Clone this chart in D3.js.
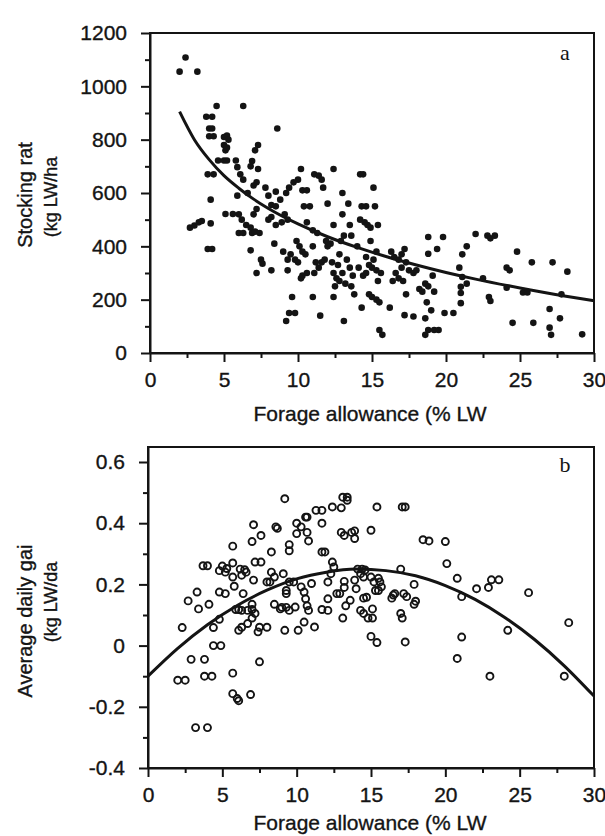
<!DOCTYPE html>
<html><head><meta charset="utf-8">
<script src="https://cdn.jsdelivr.net/npm/d3@7"></script>
<style>body{margin:0;background:#fff}</style>
</head><body>
<svg id="chart" width="605" height="836"></svg>
<script>
// ---------- data ----------
const xTicks = [0,5,10,15,20,25,30];
const xMinorTicks = [2.5,7.5,12.5,17.5,22.5,27.5];
const stockTicks = [0,200,400,600,800,1000,1200];
const stockMinorTicks = [100,300,500,700,900,1100];
const gainTicks = [-0.4,-0.2,0,0.2,0.4,0.6];
const gainMinorTicks = [-0.3,-0.1,0.1,0.3,0.5];

const stockingPoints = [
[2.0,1055],[2.4,1108],[3.2,1055],
[2.7,470],[3.0,478],[3.3,490],[3.5,495],
[3.8,886],[4.2,886],[4.5,926],[4.0,842],[4.2,842],[4.0,813],[4.3,813],
[3.9,670],[4.3,670],[4.1,575],[4.1,486],[3.9,390],[4.2,390],
[4.6,722],[5.0,722],[5.2,722],
[5.0,810],[5.2,815],[5.3,800],[5.0,780],[5.1,760],[5.2,770],
[5.1,521],[5.6,521],[5.8,722],[5.9,697],[5.9,590],[6.1,670],[6.3,650],[6.0,520],[6.3,926],[6.0,450],[6.3,450],[6.2,500],
[6.8,700],[6.9,720],[7.1,760],[7.3,780],[7.3,690],[7.2,640],[7.0,628],[6.6,600],
[6.5,480],[6.8,470],[6.9,450],[7.1,455],[7.4,450],[7.2,540],[7.0,520],
[6.8,385],[7.5,350],[7.6,335],[7.2,300],
[7.8,620],[8.0,590],[8.2,555],[8.5,605],[8.6,842],[8.8,575],[8.5,550],[8.2,510],[8.5,480],[8.0,500],[8.4,410],[8.2,310],
[8.9,490],[9.1,520],[9.2,600],[9.3,500],[9.4,620],
[9.0,380],[9.3,350],[9.5,370],[9.3,310],[9.6,210],[9.2,120],[9.4,150],[9.8,150],
[9.7,640],[10.0,650],[10.2,690],[10.3,610],[10.6,610],[9.9,420],[10.1,400],[10.3,380],[10.5,370],[9.8,350],[10.0,340],[10.3,290],[10.2,280],[10.6,300],[10.4,550],[10.8,550],[10.6,490],
[11.1,670],[11.4,665],[11.6,650],[11.7,620],[11.0,460],[11.3,450],[11.0,400],[11.2,340],[11.4,320],[11.1,300],[11.6,340],[11.8,350],[11.0,210],[11.5,140],[12.0,560],[12.0,400],[11.9,420],[12.2,410],
[12.4,690],[12.4,480],[12.3,340],[12.4,300],[12.6,280],[12.5,250],[12.7,330],[12.8,370],[12.9,420],[12.4,210],[13.0,600],[13.0,520],[13.1,440],[13.0,300],[13.2,260],[13.3,350],[13.1,120],[12.8,270],
[13.4,560],[13.5,480],[13.6,440],[13.5,320],[13.7,290],[13.6,250],[13.8,220],[14.0,400],[14.1,320],[14.2,500],
[14.2,670],[14.4,670],[14.3,550],[14.6,550],[14.5,490],[14.7,480],[14.4,290],[14.6,300],[14.8,330],[14.6,360],[14.3,170],[14.9,470],[14.9,420],[14.8,220],[15.0,210],
[15.1,620],[15.2,550],[15.4,480],[15.3,380],[15.1,350],[15.0,320],[15.3,310],[15.6,300],[15.4,270],[15.3,200],[15.5,190],[15.5,86],[15.7,68],
[16.2,170],[16.3,380],[16.5,360],[16.6,300],[16.4,270],[16.8,280],[17.0,370],[16.8,350],[17.0,320],
[17.2,390],[17.3,340],[17.5,310],[17.1,270],[17.3,220],[17.2,142],[17.8,300],[18.0,310],[17.8,137],[18.2,240],[18.4,230],
[18.6,260],[18.8,250],[18.7,190],[18.6,130],[18.8,86],[18.6,68],[18.8,435],[18.8,372],[19.4,390],[19.1,290],[19.2,230],[19.0,160],[19.2,86],[19.5,86],
[19.8,435],[19.9,150],[20.5,150],[20.9,320],[21.1,285],[21.0,248],[21.0,225],[21.0,187],[21.1,370],[21.4,400],[21.4,260],
[22.0,446],[22.5,280],[22.8,440],[23.0,430],[23.3,440],[22.9,210],[23.0,195],[24.1,320],[24.3,310],[24.1,245],
[24.5,113],[24.8,380],[25.2,227],[25.5,227],[25.8,340],[25.9,113],[27.0,165],[27.2,340],[27.0,95],[27.1,68],[27.7,130],[27.8,220],[28.2,305],[29.2,70]
];

const stockingFitX = [2,3,4,5,6,7,8,10,12,14,16,18,20,22,25,28,30];
const stockingFitY = [905,800,725,665,618,577,542,484,436,396,361,330,302,277,244,214,196];

const gainPoints = [
[2.0,-0.113],[2.5,-0.113],[2.3,0.059],[2.7,0.146],[2.9,-0.045],[3.8,-0.045],[3.3,0.175],[3.4,0.12],[3.7,0.261],[4.0,0.261],[3.8,-0.1],[4.3,-0.1],[3.2,-0.268],[4.0,-0.268],[4.1,0.135],[4.4,0.059],[4.4,0],[4.9,0],[4.8,0.086],[4.8,0.245],[5.0,0.26],[5.2,0.24],[5.3,0.252],[4.8,0.175],[5.2,0.17],[5.7,0.27],[5.7,0.224],[5.8,0.194],[5.7,0.325],[5.7,-0.09],[5.7,-0.157],[6.0,-0.173],[6.1,-0.18],[6.9,-0.16],[5.9,0.118],[6.1,0.118],[6.1,0.05],[6.3,0.06],[6.3,0.23],[6.5,0.248],[6.6,0.24],[6.2,0.25],[6.4,0.17],[6.3,0.115],[6.7,0.115],[7.0,0.34],[7.1,0.395],[7.2,0.273],[7.6,0.273],[7.1,0.214],[7.0,0.135],[7.0,0.118],[7.0,0.09],[7.2,0.105],[6.7,0.072],[7.4,0.045],[7.5,0.06],[8.0,0.06],[7.5,-0.053],[7.6,0.36],[8.0,0.208],[8.2,0.208],[8.3,0.306],[8.3,0.24],[8.5,0.224],[8.5,0.135],[8.6,0.388],[8.7,0.383],[8.9,0.12],[9.0,0.125],[9.1,0.235],[9.2,0.48],[9.3,0.18],[9.3,0.17],[9.2,0.05],[9.3,0.125],[9.5,0.115],[9.5,0.33],[9.5,0.31],[9.5,0.208],[9.8,0.208],[9.9,0.126],[10.0,0.40],[10.3,0.388],[10.0,0.366],[10.1,0.05],[10.3,0.192],[10.5,0.175],[10.6,0.153],[10.6,0.42],[10.7,0.42],[10.7,0.37],[10.8,0.342],[10.5,0.077],[10.7,0.13],[10.8,0.115],[11.0,0.203],[11.2,0.061],[11.3,0.442],[11.7,0.442],[11.7,0.40],[11.7,0.306],[11.9,0.306],[11.7,0.118],[12.1,0.208],[12.1,0.153],[12.1,0.115],[12.4,0.453],[12.4,0.273],[12.5,0.257],[12.3,0.235],[12.7,0.17],[12.9,0.17],[13.0,0.45],[13.1,0.485],[13.4,0.485],[13.4,0.475],[13.0,0.37],[13.2,0.36],[13.1,0.09],[13.2,0.19],[13.2,0.21],[13.3,0.13],[13.6,0.148],[13.7,0.37],[13.9,0.375],[13.9,0.35],[13.9,0.214],[14.0,0.186],[14.1,0.25],[14.4,0.25],[14.6,0.247],[14.3,0.235],[14.5,0.224],[14.3,0.115],[14.5,0.105],[14.8,0.09],[15.1,0.09],[14.5,0.155],[14.7,0.158],[15.0,0.03],[15.4,0.01],[15.0,0.377],[15.0,0.224],[15.2,0.208],[15.3,0.18],[15.4,0.453],[15.1,0.12],[15.5,0.22],[15.6,0.208],[15.5,0.18],[15.7,0.192],[16.4,0.155],[16.5,0.165],[16.6,0.17],[17.0,0.25],[17.0,0.105],[17.1,0.09],[17.1,0.453],[17.3,0.453],[17.2,0.17],[17.4,0.16],[17.3,0.012],[17.9,0.2],[18.0,0.145],[17.9,0.135],[18.5,0.346],[18.9,0.342],[20.0,0.34],[20.1,0.268],[20.8,0.22],[20.8,-0.042],[21.1,0.028],[21.1,0.16],[22.1,0.186],[22.9,0.19],[23.1,0.215],[23.6,0.215],[23.0,-0.1],[24.2,0.05],[25.6,0.173],[28.0,-0.1],[28.3,0.075]
];

const gainFitX = [0,2,4,6,8,10,12,14,16,18,20,22,24,26,28,30];
const gainFitY = [-0.10,-0.009,0.068,0.131,0.181,0.218,0.240,0.250,0.245,0.228,0.196,0.151,0.092,0.020,-0.066,-0.165];

const xTitle = "Forage allowance (% LW";
const stockTitle = ["Stocking rat", "(kg LW/ha"];
const gainTitle = ["Average daily gai", "(kg LW/da"];

// ---------- drawing ----------
const svg = d3.select("#chart");
svg.append("rect").attr("width",605).attr("height",836).attr("fill","#fff");
const FONT = "'Liberation Sans', Arial, sans-serif";
const INK = "#141414";

function styleText(sel, size) {
  sel.attr("fill",INK).attr("stroke",INK).attr("stroke-width",0.35)
     .style("font-family",FONT).style("font-size",size);
}

function drawPanel(cfg) {
  const x = d3.scaleLinear().domain([0,30]).range([cfg.left, cfg.right]);
  const y = d3.scaleLinear().domain(cfg.yDomain).range([cfg.bottom, cfg.top]);
  const g = svg.append("g");

  g.append("rect")
    .attr("x", cfg.left).attr("y", cfg.top)
    .attr("width", cfg.right - cfg.left).attr("height", cfg.bottom - cfg.top)
    .attr("fill","none").attr("stroke",INK).attr("stroke-width",2);

  const xa = g.append("g").attr("transform",`translate(0,${cfg.bottom})`)
    .call(d3.axisBottom(x).tickValues(xTicks).tickSize(9).tickSizeOuter(0).tickPadding(10).tickFormat(d3.format("d")));
  const xm = g.append("g").attr("transform",`translate(0,${cfg.bottom})`)
    .call(d3.axisBottom(x).tickValues(xMinorTicks).tickSize(5).tickSizeOuter(0).tickFormat(""));
  const ya = g.append("g").attr("transform",`translate(${cfg.left},0)`)
    .call(d3.axisLeft(y).tickValues(cfg.yTicks).tickSize(9).tickSizeOuter(0).tickPadding(14).tickFormat(cfg.yFormat));
  const ym = g.append("g").attr("transform",`translate(${cfg.left},0)`)
    .call(d3.axisLeft(y).tickValues(cfg.yMinor).tickSize(5).tickSizeOuter(0).tickFormat(""));
  xm.select(".domain").remove(); ym.select(".domain").remove();
  [xa,xm,ya,ym].forEach(a => {
    a.selectAll("line").attr("stroke",INK).attr("stroke-width",2);
    a.selectAll(".domain").attr("stroke",INK).attr("stroke-width",2);
    styleText(a.selectAll("text"), "21px");
  });

  const line = d3.line().x(d => x(d[0])).y(d => y(d[1])).curve(d3.curveMonotoneX);
  g.append("path").datum(cfg.fitX.map((v,i) => [v, cfg.fitY[i]]))
    .attr("d", line).attr("fill","none").attr("stroke",INK).attr("stroke-width",3);

  const pts = g.append("g").selectAll("circle").data(cfg.points).join("circle")
    .attr("cx", d => x(d[0])).attr("cy", d => y(d[1]));
  if (cfg.open) pts.attr("r",3.5).attr("fill","none").attr("stroke",INK).attr("stroke-width",1.9);
  else pts.attr("r",3.3).attr("fill",INK);

  g.append("text").attr("x",cfg.right-29).attr("y",cfg.letterY).attr("text-anchor","middle")
    .style("font-family","'Liberation Serif','Times New Roman',serif").style("font-size","22px")
    .attr("fill",INK).text(cfg.letter);

  styleText(g.append("text").attr("x",370).attr("y",cfg.xTitleY).attr("text-anchor","middle").text(xTitle), "21px");

  cfg.yTitle.forEach((t,i) => {
    const cx = i === 0 ? 25 : 50;
    const cy = cfg.yTitleY[i];
    styleText(g.append("text").attr("transform",`translate(${cx + 7},${cy}) rotate(-90)`)
      .attr("text-anchor","middle").text(t), i === 0 ? "20px" : "18px");
  });
}

drawPanel({
  left:150, right:594, top:33, bottom:353,
  yDomain:[0,1200], yTicks:stockTicks, yMinor:stockMinorTicks,
  yFormat:d3.format("d"),
  points:stockingPoints, open:false,
  fitX:stockingFitX, fitY:stockingFitY,
  letter:"a", letterY:60, xTitleY:421,
  yTitle:stockTitle, yTitleY:[195,197]
});

drawPanel({
  left:148, right:594, top:447, bottom:768,
  yDomain:[-0.4,0.649], yTicks:gainTicks, yMinor:gainMinorTicks,
  yFormat:d => d === 0 ? "0" : (d < 0 ? "-" : "") + Math.abs(d).toFixed(1),
  points:gainPoints, open:true,
  fitX:gainFitX, fitY:gainFitY,
  letter:"b", letterY:472, xTitleY:830,
  yTitle:gainTitle, yTitleY:[621,602]
});
</script>
</body></html>
